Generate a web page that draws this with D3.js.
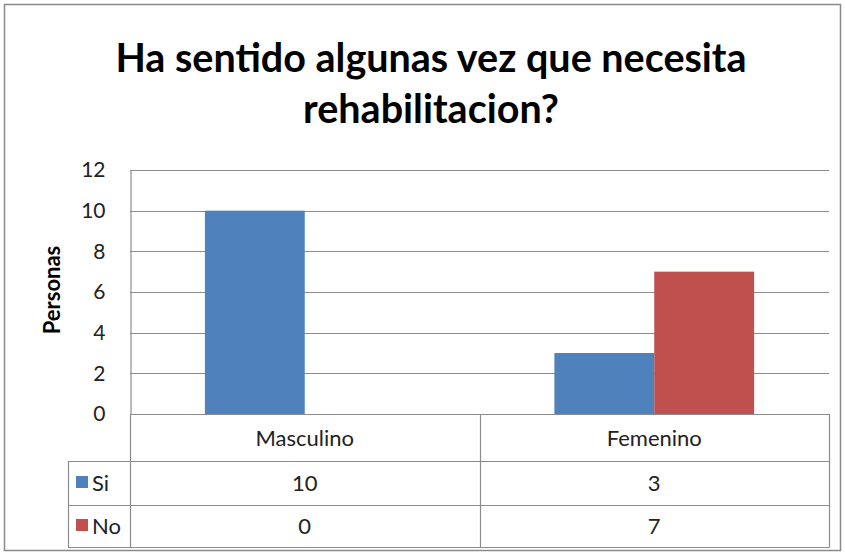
<!DOCTYPE html>
<html>
<head>
<meta charset="utf-8">
<script src="https://cdn.jsdelivr.net/npm/d3@7"></script>
<style>
  body { margin: 0; background: #fff; }
  text { font-family: Lato, "Open Sans", sans-serif; }
</style>
</head>
<body>
<div id="chart"></div>
<script>
var categories = ["Masculino", "Femenino"];
var seriesNames = ["Si", "No"];
var siValues = [10, 3];
var noValues = [0, 7];
var yTicks = [0, 2, 4, 6, 8, 10, 12];
var colors = ["#4F81BD", "#C0504D"];

var width = 845;
var height = 555;

var svg = d3.select("#chart")
  .append("svg")
  .attr("width", width)
  .attr("height", height);

// outer frame
svg.append("rect")
  .attr("x", 4.5).attr("y", 4.5)
  .attr("width", 836).attr("height", 546)
  .attr("fill", "#fff")
  .attr("stroke", "#8a8a8a")
  .attr("stroke-width", 1.5);

// title
var title = svg.append("text")
  .attr("text-anchor", "middle")
  .style("font-size", "39.5px")
  .style("font-weight", "bold")
  .style("fill", "#000");
title.append("tspan").attr("x", 431).attr("y", 72).text("Ha sentido algunas vez que necesita");
title.append("tspan").attr("x", 431).attr("y", 123).text("rehabilitacion?");

// scales
var plotLeft = 130, plotRight = 829, plotTop = 170, plotBottom = 414;

var yScale = d3.scaleLinear()
  .domain([0, 12])
  .range([plotBottom, plotTop]);

var x0 = d3.scaleBand()
  .domain(categories)
  .range([plotLeft, plotRight])
  .padding(0);

var gap = 1.5;
var barW = x0.bandwidth() / (seriesNames.length + gap);
var x1 = d3.scaleBand()
  .domain(seriesNames)
  .range([barW * gap / 2, barW * (gap / 2 + seriesNames.length)])
  .padding(0);

// gridlines
svg.append("g")
  .selectAll("line")
  .data(yTicks)
  .enter()
  .append("line")
  .attr("x1", plotLeft).attr("x2", plotRight)
  .attr("y1", d => Math.round(yScale(d)) + 0.5)
  .attr("y2", d => Math.round(yScale(d)) + 0.5)
  .attr("stroke", "#8c8c8c")
  .attr("stroke-width", 1.2);

// y axis
var yAxis = d3.axisLeft(yScale)
  .tickValues(yTicks)
  .tickSize(0)
  .tickPadding(25);

var yAxisG = svg.append("g")
  .attr("transform", "translate(" + (plotLeft + 0.5) + ",0)")
  .call(yAxis);
yAxisG.select(".domain").attr("stroke", "#8c8c8c").attr("stroke-width", 1.2);
yAxisG.selectAll("text")
  .style("font-size", "21px")
  .style("font-family", "Lato, sans-serif")
  .attr("fill", "#222");

// y label
svg.append("text")
  .attr("transform", "translate(60," + 290 + ") rotate(-90)")
  .attr("text-anchor", "middle")
  .style("font-size", "22px")
  .style("font-weight", "bold")
  .text("Personas");

// bars
var rows = categories.map((c, i) => ({ cat: c, values: [siValues[i], noValues[i]] }));

var groups = svg.append("g")
  .selectAll("g")
  .data(rows)
  .enter()
  .append("g")
  .attr("transform", d => "translate(" + x0(d.cat) + ",0)");

groups.selectAll("rect")
  .data(d => d.values.map((v, j) => ({ name: seriesNames[j], value: v, idx: j })))
  .enter()
  .append("rect")
  .attr("x", d => x1(d.name))
  .attr("y", d => yScale(d.value))
  .attr("width", x1.bandwidth())
  .attr("height", d => plotBottom - yScale(d.value))
  .attr("fill", d => colors[d.idx]);

// data table
var tableLeft = 68;
var rowLines = [414, 461, 505, 547];
var lineColor = "#8c8c8c";
var table = svg.append("g").attr("stroke", lineColor).attr("stroke-width", 1.2);

// horizontal lines
table.append("line").attr("x1", plotLeft).attr("x2", plotRight).attr("y1", rowLines[0] + 0.5).attr("y2", rowLines[0] + 0.5);
rowLines.slice(1).forEach(function (y) {
  table.append("line").attr("x1", tableLeft).attr("x2", plotRight).attr("y1", y + 0.5).attr("y2", y + 0.5);
});
// vertical lines
var colEdges = [plotLeft].concat(categories.map(c => x0(c) + x0.bandwidth()));
colEdges.forEach(function (x) {
  table.append("line").attr("x1", Math.round(x) + 0.5).attr("x2", Math.round(x) + 0.5)
    .attr("y1", rowLines[0]).attr("y2", rowLines[3] + 0.5);
});
table.append("line").attr("x1", tableLeft + 0.5).attr("x2", tableLeft + 0.5)
  .attr("y1", rowLines[1]).attr("y2", rowLines[3] + 0.5);

// header labels
svg.append("g")
  .selectAll("text")
  .data(categories)
  .enter()
  .append("text")
  .attr("x", d => x0(d) + x0.bandwidth() / 2)
  .attr("y", (rowLines[0] + rowLines[1]) / 2 + 8)
  .attr("text-anchor", "middle")
  .style("font-size", "22px")
  .attr("fill", "#222")
  .text(d => d);

// series rows
var seriesData = [siValues, noValues];
seriesNames.forEach(function (name, j) {
  var yMid = (rowLines[j + 1] + rowLines[j + 2]) / 2;
  svg.append("rect")
    .attr("x", 76).attr("y", yMid - 7)
    .attr("width", 12).attr("height", 12)
    .attr("fill", colors[j]);
  svg.append("text")
    .attr("x", 92).attr("y", yMid + 8)
    .style("font-size", "22px")
    .attr("fill", "#222")
    .text(name);
  svg.append("g")
    .selectAll("text")
    .data(seriesData[j])
    .enter()
    .append("text")
    .attr("x", (d, i) => x0(categories[i]) + x0.bandwidth() / 2)
    .attr("y", yMid + 8)
    .attr("text-anchor", "middle")
    .style("font-size", "22px")
    .attr("fill", "#222")
    .text(d => d);
});
</script>
</body>
</html>
